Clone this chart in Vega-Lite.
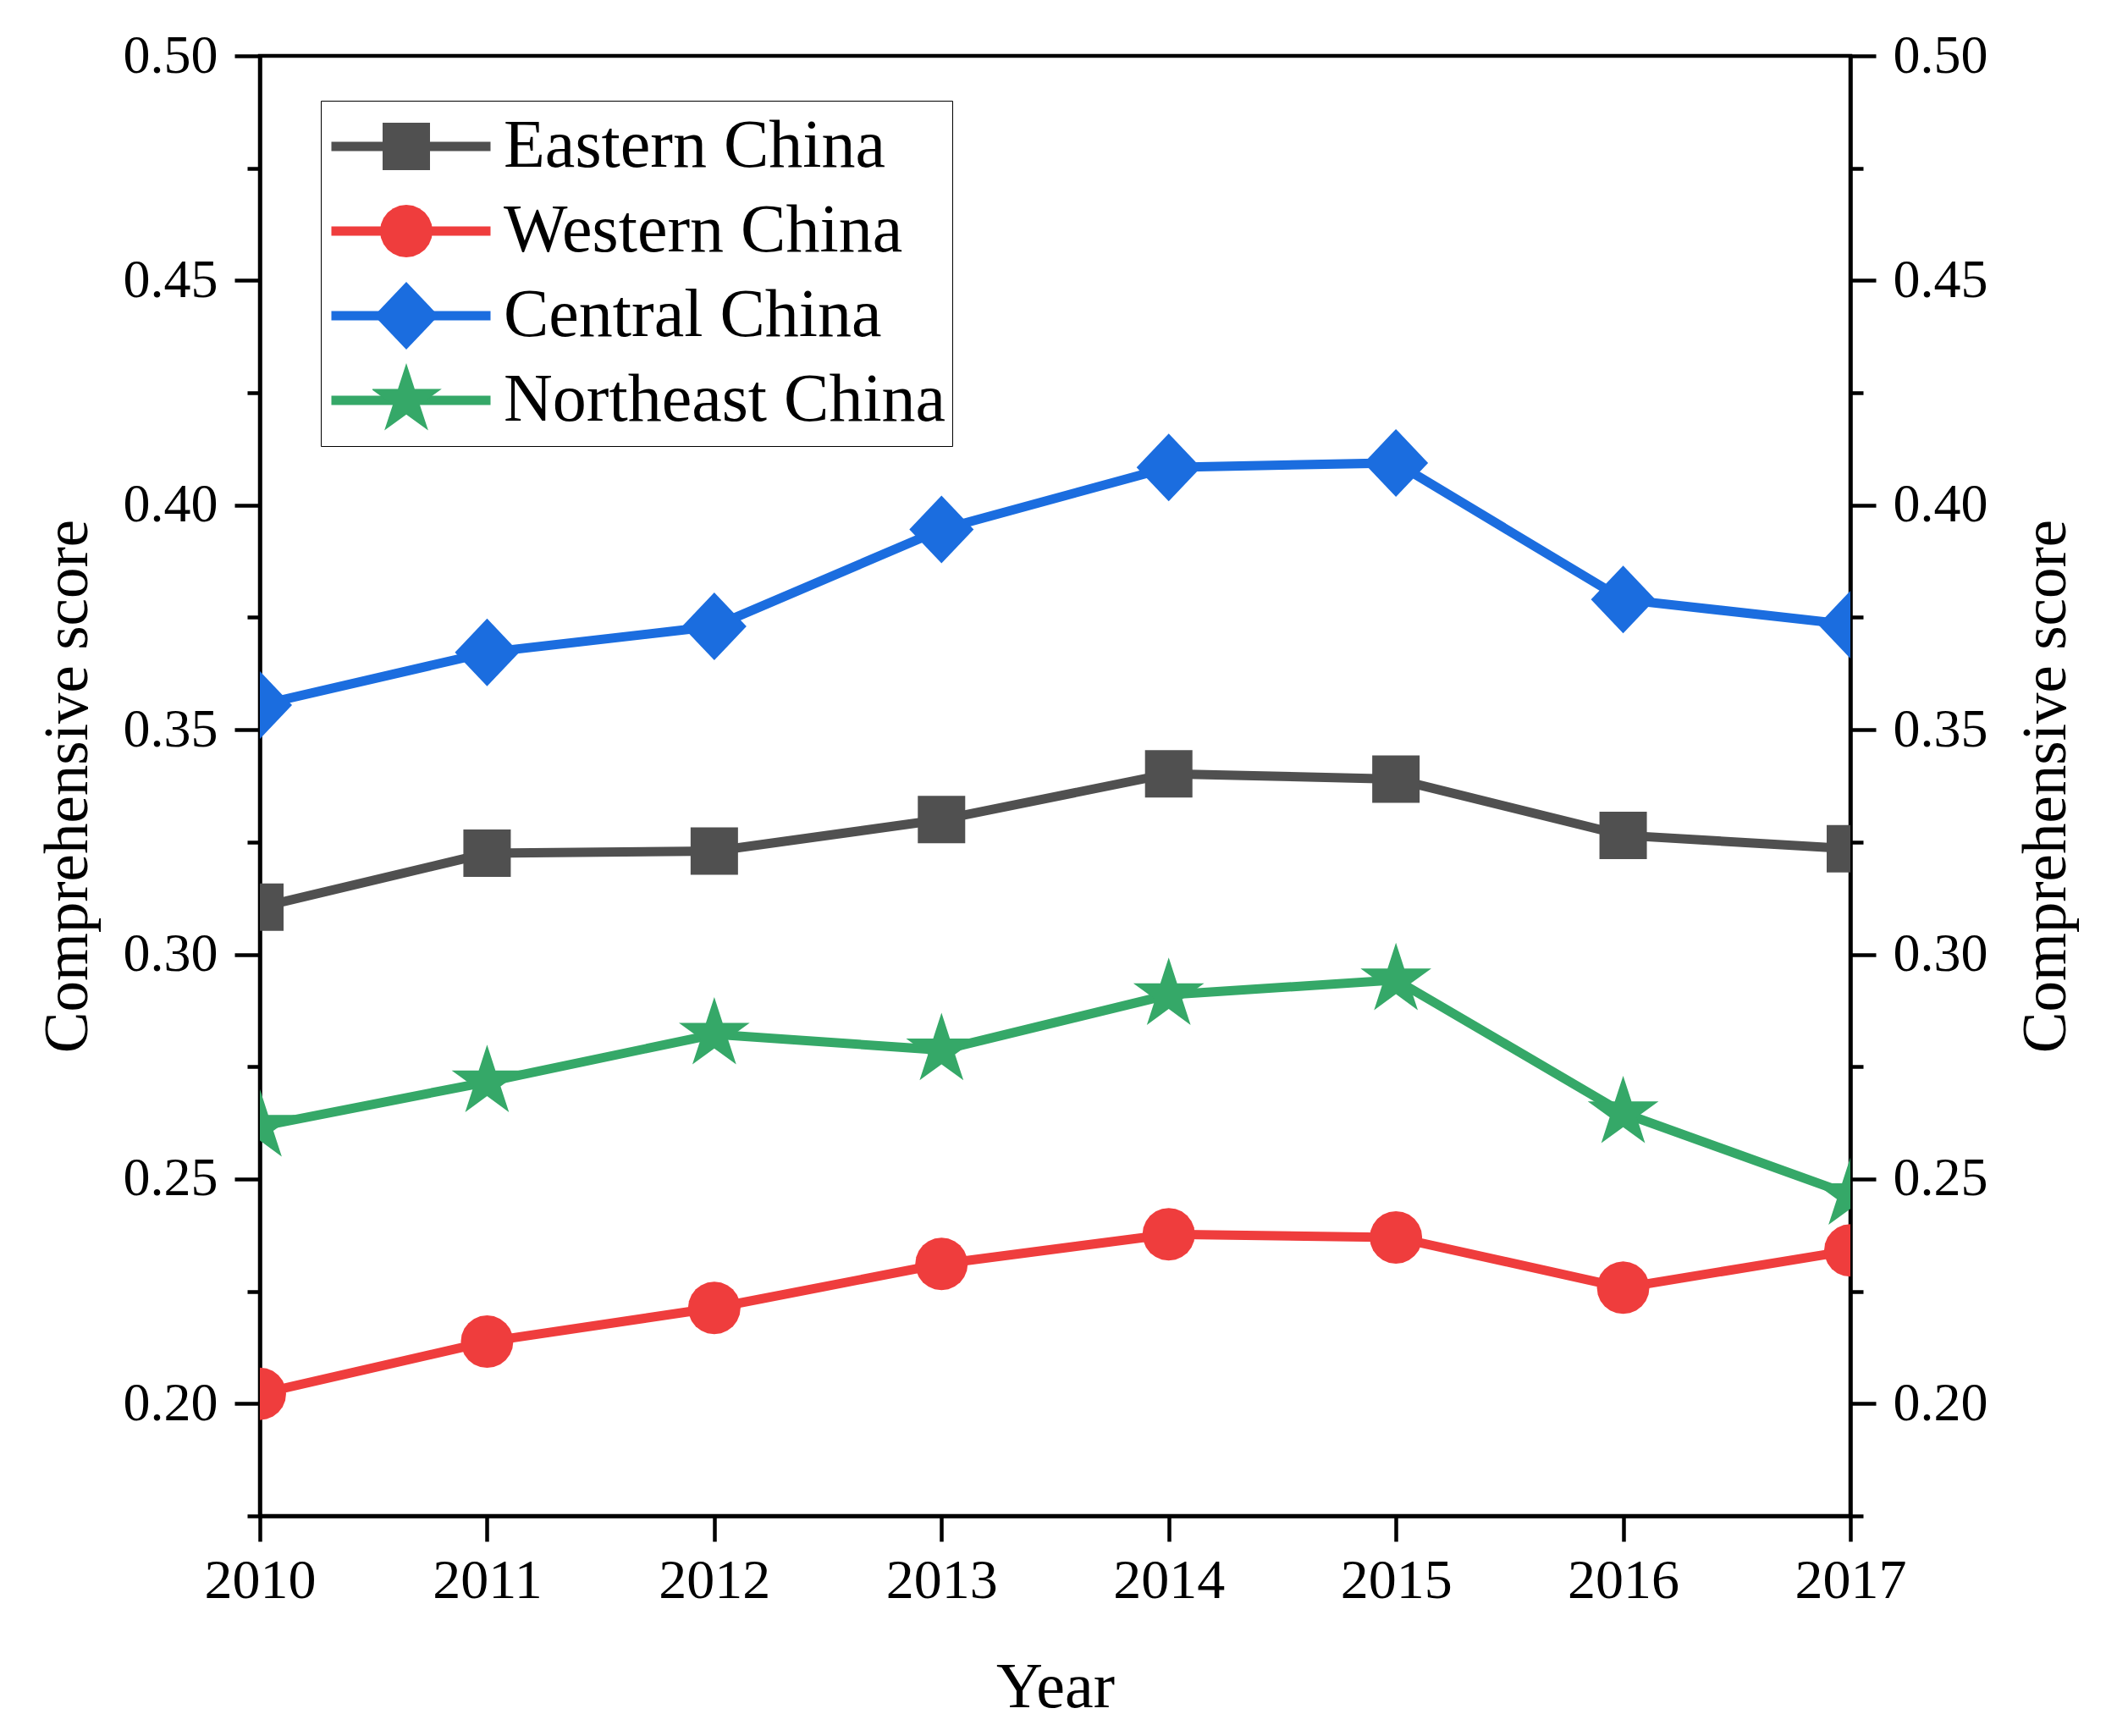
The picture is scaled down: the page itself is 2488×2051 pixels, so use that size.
{
  "$schema": "https://vega.github.io/schema/vega-lite/v6.json",
  "width": 1879,
  "height": 1725,
  "autosize": {"type": "none"},
  "padding": {"left": 307, "top": 66, "right": 302, "bottom": 260},
  "background": "white",
  "config": {
    "font": "Liberation Serif",
    "view": {"stroke": "black", "strokeWidth": 4.5}
  },
  "data": {
    "values": [
      {"year": 2010, "region": "Eastern China", "score": 0.3105},
      {"year": 2011, "region": "Eastern China", "score": 0.3225},
      {"year": 2012, "region": "Eastern China", "score": 0.3230},
      {"year": 2013, "region": "Eastern China", "score": 0.3300},
      {"year": 2014, "region": "Eastern China", "score": 0.3402},
      {"year": 2015, "region": "Eastern China", "score": 0.3390},
      {"year": 2016, "region": "Eastern China", "score": 0.3265},
      {"year": 2017, "region": "Eastern China", "score": 0.3235},
      {"year": 2010, "region": "Western China", "score": 0.2022},
      {"year": 2011, "region": "Western China", "score": 0.2138},
      {"year": 2012, "region": "Western China", "score": 0.2213},
      {"year": 2013, "region": "Western China", "score": 0.2311},
      {"year": 2014, "region": "Western China", "score": 0.2377},
      {"year": 2015, "region": "Western China", "score": 0.2370},
      {"year": 2016, "region": "Western China", "score": 0.2258},
      {"year": 2017, "region": "Western China", "score": 0.2341},
      {"year": 2010, "region": "Central China", "score": 0.3555},
      {"year": 2011, "region": "Central China", "score": 0.3672},
      {"year": 2012, "region": "Central China", "score": 0.3730},
      {"year": 2013, "region": "Central China", "score": 0.3946},
      {"year": 2014, "region": "Central China", "score": 0.4084},
      {"year": 2015, "region": "Central China", "score": 0.4094},
      {"year": 2016, "region": "Central China", "score": 0.3790},
      {"year": 2017, "region": "Central China", "score": 0.3734},
      {"year": 2010, "region": "Northeast China", "score": 0.2617},
      {"year": 2011, "region": "Northeast China", "score": 0.2716},
      {"year": 2012, "region": "Northeast China", "score": 0.2822},
      {"year": 2013, "region": "Northeast China", "score": 0.2787},
      {"year": 2014, "region": "Northeast China", "score": 0.2910},
      {"year": 2015, "region": "Northeast China", "score": 0.2943},
      {"year": 2016, "region": "Northeast China", "score": 0.2647},
      {"year": 2017, "region": "Northeast China", "score": 0.2465}
    ]
  },
  "resolve": {"axis": {"y": "independent"}},
  "layer": [
    {
      "mark": {"type": "line", "strokeWidth": 11, "clip": true},
      "encoding": {
        "x": {
          "field": "year", "type": "quantitative",
          "scale": {"domain": [2010, 2017], "nice": false, "zero": false},
          "axis": {
            "values": [2010, 2011, 2012, 2013, 2014, 2015, 2016, 2017],
            "format": "d", "grid": false, "labelFlush": false,
            "domainColor": "black", "domainWidth": 4.5,
            "tickColor": "black", "tickWidth": 4.5, "tickSize": 30,
            "labelFontSize": 66, "labelColor": "black", "labelPadding": 14,
            "title": "Year", "titleFontSize": 76, "titleFontWeight": "normal",
            "titleColor": "black", "titlePadding": 56
          }
        },
        "y": {
          "field": "score", "type": "quantitative",
          "scale": {"domain": [0.175, 0.5], "nice": false, "zero": false},
          "axis": {
            "orient": "left",
            "values": [0.175, 0.2, 0.225, 0.25, 0.275, 0.3, 0.325, 0.35, 0.375, 0.4, 0.425, 0.45, 0.475, 0.5],
            "labelExpr": "round(datum.value*1000) % 50 == 0 ? format(datum.value, '.2f') : ''",
            "grid": false,
            "domainColor": "black", "domainWidth": 4.5,
            "tickColor": "black", "tickWidth": 4.5,
            "tickSize": {"condition": {"test": "round(datum.value*1000) % 50 == 0", "value": 30}, "value": 15},
            "labelFontSize": 64, "labelColor": "black", "labelPadding": 20,
            "title": "Comprehensive score", "titleFontSize": 73, "titleFontWeight": "normal",
            "titleColor": "black", "titlePadding": 28
          }
        },
        "stroke": {
          "field": "region", "type": "nominal",
          "sort": ["Eastern China", "Western China", "Central China", "Northeast China"],
          "scale": {"range": ["#505050", "#ef3d3d", "#1b6ddf", "#35a868"]},
          "legend": {
            "orient": "none", "legendX": 72, "legendY": 53,
            "title": null, "symbolType": "stroke", "symbolSize": 35344,
            "symbolStrokeWidth": 11, "labelFontSize": 80, "labelColor": "black",
            "labelLimit": 2000, "labelOffset": 10, "padding": 7, "rowPadding": 6,
            "clipHeight": 94, "strokeColor": "black"
          }
        }
      }
    },
    {
      "mark": {"type": "point", "filled": true, "size": 6400, "strokeWidth": 0, "opacity": 1, "clip": true},
      "encoding": {
        "x": {"field": "year", "type": "quantitative"},
        "y": {
          "field": "score", "type": "quantitative",
          "axis": {
            "orient": "right",
            "values": [0.175, 0.2, 0.225, 0.25, 0.275, 0.3, 0.325, 0.35, 0.375, 0.4, 0.425, 0.45, 0.475, 0.5],
            "labelExpr": "round(datum.value*1000) % 50 == 0 ? format(datum.value, '.2f') : ''",
            "grid": false,
            "domainColor": "black", "domainWidth": 4.5,
            "tickColor": "black", "tickWidth": 4.5,
            "tickSize": {"condition": {"test": "round(datum.value*1000) % 50 == 0", "value": 30}, "value": 15},
            "labelFontSize": 64, "labelColor": "black", "labelPadding": 20,
            "title": "Comprehensive score", "titleFontSize": 73, "titleFontWeight": "normal",
            "titleColor": "black", "titlePadding": 106, "titleAngle": 270
          }
        },
        "fill": {
          "field": "region", "type": "nominal",
          "scale": {
            "domain": ["Eastern China", "Western China", "Central China", "Northeast China"],
            "range": ["#505050", "#ef3d3d", "#1b6ddf", "#35a868"]
          },
          "legend": {
            "orient": "none", "legendX": 133, "legendY": 60,
            "title": null, "symbolSize": 6400, "symbolStrokeWidth": 0, "symbolOpacity": 1,
            "labelFontSize": 80, "labelExpr": "''", "labelLimit": 2000,
            "padding": 0, "rowPadding": 6, "clipHeight": 94
          }
        },
        "shape": {
          "field": "region", "type": "nominal",
          "scale": {
            "domain": ["Eastern China", "Western China", "Central China", "Northeast China"],
            "range": [
              "M-0.7,-0.7L0.7,-0.7L0.7,0.7L-0.7,0.7Z",
              "M0.775,0L0.749,0.201L0.671,0.388L0.548,0.548L0.388,0.671L0.201,0.749L0,0.775L-0.201,0.749L-0.388,0.671L-0.548,0.548L-0.671,0.388L-0.749,0.201L-0.775,0L-0.749,-0.201L-0.671,-0.388L-0.548,-0.548L-0.388,-0.671L-0.201,-0.749L0,-0.775L0.201,-0.749L0.388,-0.671L0.548,-0.548L0.671,-0.388L0.749,-0.201Z",
              "M0,-1L0.95,0L0,1L-0.95,0Z",
              "M0,-1.1L0.247,-0.34L1.046,-0.34L0.399,0.13L0.647,0.89L0,0.42L-0.647,0.89L-0.399,0.13L-1.046,-0.34L-0.247,-0.34Z"
            ]
          },
          "legend": {
            "orient": "none", "legendX": 133, "legendY": 60,
            "title": null, "symbolSize": 6400, "symbolStrokeWidth": 0, "symbolOpacity": 1,
            "labelFontSize": 80, "labelExpr": "''", "labelLimit": 2000,
            "padding": 0, "rowPadding": 6, "clipHeight": 94
          }
        }
      }
    }
  ]
}
